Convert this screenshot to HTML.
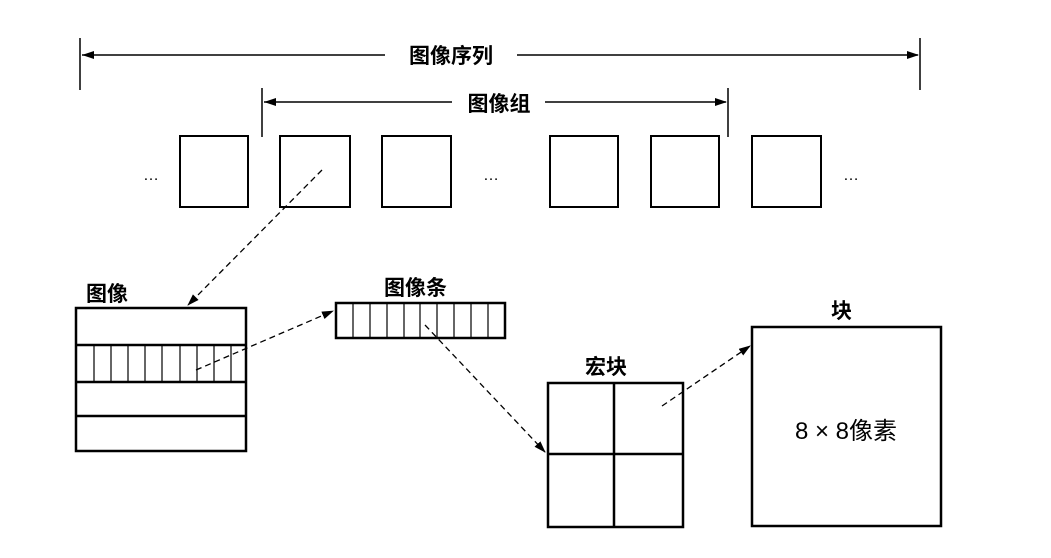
<!DOCTYPE html>
<html><head><meta charset="utf-8"><style>body{margin:0;background:#fff}svg{display:block}text{font-family:"Liberation Sans","Noto Sans CJK SC",sans-serif;fill:#000}</style></head><body>
<svg width="1051" height="558" viewBox="0 0 1051 558">
<defs><marker id="a" markerWidth="12" markerHeight="8" refX="11" refY="4" orient="auto" markerUnits="userSpaceOnUse"><path d="M0,0 L12,4 L0,8 Z" fill="#000"/></marker></defs>
<g stroke="#000" fill="none">
<g stroke-width="1.5">
<line x1="80" y1="38" x2="80" y2="90"/><line x1="920" y1="38" x2="920" y2="90"/>
<line x1="82" y1="55" x2="385" y2="55"/><line x1="517" y1="55" x2="918" y2="55" marker-end="url(#a)"/>
<line x1="262" y1="88" x2="262" y2="137"/><line x1="728" y1="88" x2="728" y2="137"/>
<line x1="264" y1="102" x2="452" y2="102"/><line x1="545" y1="102" x2="726" y2="102" marker-end="url(#a)"/>
</g>
<path d="M264,102 l12,-4 v8z" fill="#000" stroke="none"/>
<path d="M82,55 l12,-4 v8z" fill="#000" stroke="none"/>
<g stroke-width="2">
<rect x="180" y="136" width="68" height="71"/><rect x="280" y="136" width="70" height="71"/><rect x="382" y="136" width="69" height="71"/>
<rect x="550" y="136" width="68" height="71"/><rect x="651" y="136" width="68" height="71"/><rect x="752" y="136" width="69" height="71"/>
<rect x="76" y="308" width="170" height="143" stroke-width="2.5"/>
<line x1="76" y1="345" x2="246" y2="345" stroke-width="2.5"/><line x1="76" y1="382" x2="246" y2="382" stroke-width="2.5"/><line x1="76" y1="416" x2="246" y2="416" stroke-width="2.5"/>
<rect x="336" y="303" width="169" height="35" stroke-width="2.5"/>
<rect x="548" y="383" width="135" height="144" stroke-width="2.5"/>
<line x1="614" y1="383" x2="614" y2="527" stroke-width="2.5"/><line x1="548" y1="454" x2="683" y2="454" stroke-width="2.5"/>
<rect x="752" y="327" width="189" height="199" stroke-width="2.5"/>
</g>
<g stroke-width="1.2">
<line x1="94" y1="345" x2="94" y2="382"/><line x1="111" y1="345" x2="111" y2="382"/><line x1="128" y1="345" x2="128" y2="382"/><line x1="145" y1="345" x2="145" y2="382"/><line x1="162" y1="345" x2="162" y2="382"/><line x1="180" y1="345" x2="180" y2="382"/><line x1="197" y1="345" x2="197" y2="382"/><line x1="214" y1="345" x2="214" y2="382"/><line x1="231" y1="345" x2="231" y2="382"/>
<line x1="353" y1="303" x2="353" y2="338"/><line x1="370" y1="303" x2="370" y2="338"/><line x1="387" y1="303" x2="387" y2="338"/><line x1="404" y1="303" x2="404" y2="338"/><line x1="420" y1="303" x2="420" y2="338"/><line x1="437" y1="303" x2="437" y2="338"/><line x1="454" y1="303" x2="454" y2="338"/><line x1="471" y1="303" x2="471" y2="338"/><line x1="488" y1="303" x2="488" y2="338"/>
</g>
<g stroke-width="1.3" stroke-dasharray="6,4">
<line x1="322" y1="170" x2="188" y2="305" marker-end="url(#a)"/>
<line x1="196" y1="370" x2="333" y2="311" marker-end="url(#a)"/>
<line x1="425" y1="325" x2="545" y2="452" marker-end="url(#a)"/>
<line x1="662" y1="406" x2="750" y2="346" marker-end="url(#a)"/>
</g>
</g>
<g font-size="21" style="font-weight:bold">
<text x="451" y="63" text-anchor="middle">图像序列</text>
<text x="499" y="111" text-anchor="middle">图像组</text>
<text x="86" y="301">图像</text>
<text x="384" y="295">图像条</text>
<text x="585" y="374">宏块</text>
<text x="831" y="318">块</text>
</g>
<text x="846" y="439" text-anchor="middle" font-size="24" style="font-weight:normal">8 × 8像素</text>
<g font-size="16" style="font-weight:normal"><text x="143" y="180">…</text><text x="483" y="180">…</text><text x="843" y="180">…</text></g>
</svg>
</body></html>
